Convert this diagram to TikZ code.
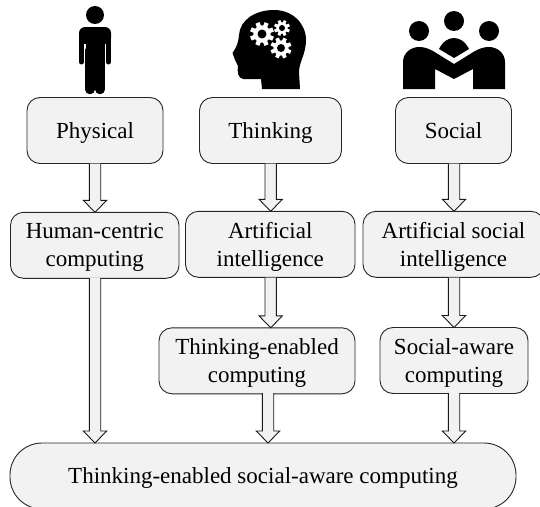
\documentclass[tikz,border=0pt]{standalone}
\usepackage{fontspec}
\setmainfont{Liberation Serif}
\usetikzlibrary{positioning,calc}
\definecolor{boxgray}{RGB}{242,242,242}
\tikzset{
	block/.style={draw=black!85,line width=.9pt,fill=boxgray,rounded corners=13pt,minimum height=66pt,outer sep=0pt,inner sep=2pt,align=center,text depth=0pt,font=\fontsize{23pt}{28pt}\selectfont},
	flowarrow/.style={draw=black!90,fill=boxgray,line width=.9pt,to path={let \p1=(\tikztostart),\p2=(\tikztotarget) in
		(\x1-5.7pt,\y1) -- (\x1-5.7pt,\y2+12pt) -- (\x1-11.7pt,\y2+12pt) -- (\x1,\y2) -- (\x1+11.7pt,\y2+12pt) -- (\x1+5.7pt,\y2+12pt) -- (\x1+5.7pt,\y1)}}
}
\newcommand{\cogwheel}[3]{% centre, outer radius, hole radius
	\fill[white] #1 circle (#2*.72);
	\foreach \a in {0,45,...,315} \draw[white,line width=#2*.36pt] #1 -- ++(\a+22:#2);
	\fill[black] #1 circle (#3);
}
\begin{document}
\begin{tikzpicture}[x=1pt,y=1pt]
	\useasboundingbox (0,0) rectangle (540,-506);
	\begin{scope}
		\clip (0,0) rectangle (540,-506);
		\node (Physical)  [block,minimum width=136pt] at (95,-130.5) {Physical};
		\node (Thinking)  [block,minimum width=142pt,right=36.5pt of Physical] {Thinking};
		\node (Social)    [block,minimum width=116pt,right=54pt of Thinking] {Social};
		\node (Human)     [block,minimum width=168.5pt] at (94.75,-245.3) {Human-centric\\computing};
		\node (AI)        [block,minimum width=169.5pt,right=6.5pt of Human,yshift=1pt] {Artificial\\intelligence};
		\node (ASI)       [block,minimum width=181pt,right=8pt of AI] {Artificial social\\intelligence};
		\node (ThinkComp) [block,minimum width=196pt,below=50.5pt of AI.south east,anchor=north east] {Thinking-enabled\\computing};
		\node (SocComp)   [block,minimum width=148pt] at (454,-360.5) {Social-aware\\computing};
		\node (Final)     [block,minimum width=506pt,minimum height=66pt,rounded corners=32pt] at (263,-476) {Thinking-enabled social-aware computing};
	\end{scope}

	\coordinate (PhysicalOut) at (95,-163.5);
	\coordinate (ThinkingOut) at (270.7,-163.5);
	\coordinate (SocialOut)   at (454,-163.5);
	\coordinate (HumanOut)    at (95,-278);
	\coordinate (AIOut)       at (270.7,-277.5);
	\coordinate (ASIOut)      at (454,-277.5);
	\coordinate (TCompOut)    at (268,-393);
	\coordinate (SCompOut)    at (454,-393);

	\draw[flowarrow] (PhysicalOut) to (Human.north);
	\draw[flowarrow] (ThinkingOut) to (AI.north);
	\draw[flowarrow] (SocialOut)   to (ASI.north);
	\draw[flowarrow] (HumanOut)    to (Final.north);
	\draw[flowarrow] (AIOut)       to (ThinkComp.north);
	\draw[flowarrow] (ASIOut)      to (SocComp.north);
	\draw[flowarrow] (TCompOut)    to (Final.north);
	\draw[flowarrow] (SCompOut)    to (Final.north);

	% person
	\fill (95,-15) circle (9);
	\fill[rounded corners=6pt] (79,-44) -- (79,-27) -- (111,-27) -- (111,-44) -- cycle;
	\fill (85.5,-36) rectangle (104.5,-60);
	\draw[line width=5pt,line cap=round] (81.5,-38) -- (81.5,-62);
	\draw[line width=5pt,line cap=round] (108.5,-38) -- (108.5,-62);
	\draw[line width=9.5pt,line cap=round] (90,-50) -- (90,-89.5);
	\draw[line width=9.5pt,line cap=round] (100,-50) -- (100,-89.5);

	% head
	\fill (232.5,-53) .. controls (237,-46) and (238,-44) .. (239,-35) .. controls (240,-20) and (255,-10) .. (274,-10)
		.. controls (293,-10) and (306,-24) .. (306,-40) .. controls (306,-54) and (299,-62) .. (299,-72) -- (300,-89)
		-- (262,-89) -- (261,-79) -- (243,-79) .. controls (238,-78) and (237,-72) .. (238,-66) -- (235,-60) -- cycle;
	\cogwheel{(262,-34)}{12}{4.5}
	\cogwheel{(282,-28)}{8}{3}
	\cogwheel{(281,-48)}{10.5}{4}

	% group
	\fill (454,-21) circle (10);
	\fill (419,-31) circle (10);
	\fill (489,-31) circle (10);
	\fill (439,-49) .. controls (443,-41) and (449,-38) .. (454,-38) .. controls (459,-38) and (465,-41) .. (469,-49) -- (454,-58) -- cycle;
	\fill (403,-89) -- (403,-62) .. controls (403,-53) and (411,-47) .. (419,-47) .. controls (425,-47) and (429,-49) .. (433,-51)
		-- (454,-64) -- (475,-51) .. controls (479,-49) and (483,-47) .. (489,-47) .. controls (497,-47) and (505,-53) .. (505,-62)
		-- (505,-89) -- (473,-89) -- (473,-69) -- (454,-79) -- (435,-69) -- (435,-89) -- cycle;
\end{tikzpicture}
\end{document}
